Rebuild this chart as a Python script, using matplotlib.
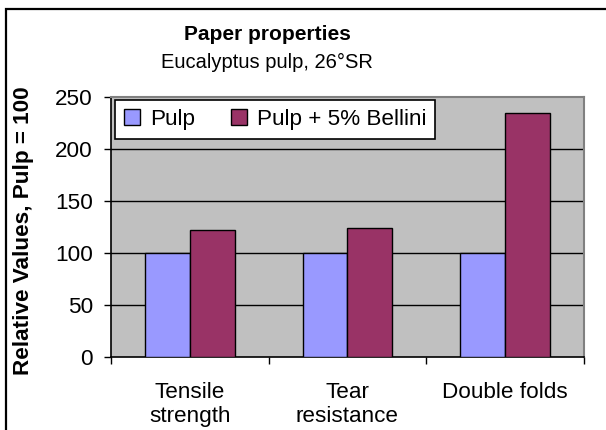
import numpy as np
import matplotlib.pyplot as plt
from matplotlib.patches import Rectangle

plt.rcParams['font.family'] = ['Liberation Sans', 'DejaVu Sans']

# data
categories = ["Tensile\nstrength", "Tear\nresistance", "Double folds"]
series_names = ["Pulp", "Pulp + 5% Bellini"]
pulp = [100, 100, 100]
bellini = [122, 124, 235]
y_ticks = [0, 50, 100, 150, 200, 250]

fs = 16.2

fig = plt.figure(figsize=(6.06, 4.30), dpi=100)
ax = fig.add_axes([111/606, 1 - 357/430, 473/606, 260/430])
ax.set_facecolor('#C0C0C0')

x = np.arange(len(categories))
w = 0.285
ax.bar(x - w/2, pulp, w, color='#9999FF', edgecolor='black', linewidth=1.0,
       label=series_names[0], zorder=3)
ax.bar(x + w/2, bellini, w, color='#993366', edgecolor='black', linewidth=1.0,
       label=series_names[1], zorder=3)

ax.set_xlim(-0.5, 2.5)
ax.set_ylim(0, 250)

# gridlines
for v in y_ticks[1:-1]:
    ax.axhline(v, color='black', linewidth=1.0, zorder=1)

ax.set_yticks(y_ticks)
ax.tick_params(axis='y', labelsize=fs, length=5, width=1, pad=8, direction='out')

# category boundaries as ticks, labels at centres
ax.set_xticks([-0.5, 0.5, 1.5, 2.5])
ax.set_xticklabels([])
ax.tick_params(axis='x', which='major', length=5, width=1, direction='out')
ax.set_xticks(x, minor=True)
ax.set_xticklabels(categories, minor=True)
ax.tick_params(axis='x', which='minor', length=0, labelsize=fs, pad=18)

ax.spines['left'].set_linewidth(1.2)
ax.spines['bottom'].set_linewidth(1.2)
ax.spines['top'].set_color('#808080')
ax.spines['right'].set_color('#808080')
ax.spines['top'].set_linewidth(1.5)
ax.spines['right'].set_linewidth(1.5)

leg = ax.legend(loc='upper left', bbox_to_anchor=(0.0085, 0.988), borderaxespad=0,
                ncol=2, fontsize=fs, frameon=True, fancybox=False,
                handlelength=0.7, handleheight=0.7, handletextpad=0.45,
                columnspacing=1.6, borderpad=0.4)
leg.get_frame().set_edgecolor('black')
leg.get_frame().set_facecolor('white')
leg.get_frame().set_linewidth(1.2)
leg.get_frame().set_alpha(1)

fig.text(267/606, 1 - 35/430, "Paper properties", ha='center', va='center',
         fontsize=15, fontweight='bold')
fig.text(267/606, 1 - 62/430, "Eucalyptus pulp, 26°SR", ha='center', va='center',
         fontsize=14.5)
fig.text(24/606, 1 - 231/430, "Relative Values, Pulp = 100", ha='center', va='center',
         rotation=90, fontsize=fs, fontweight='bold')

# outer chart border
fig.patches.append(Rectangle((5.5/606, -0.1), 1.2, 1.1 - 8.5/430, transform=fig.transFigure,
                             fill=False, edgecolor='black', linewidth=1.6))

fig.savefig('out.png', dpi=100)
